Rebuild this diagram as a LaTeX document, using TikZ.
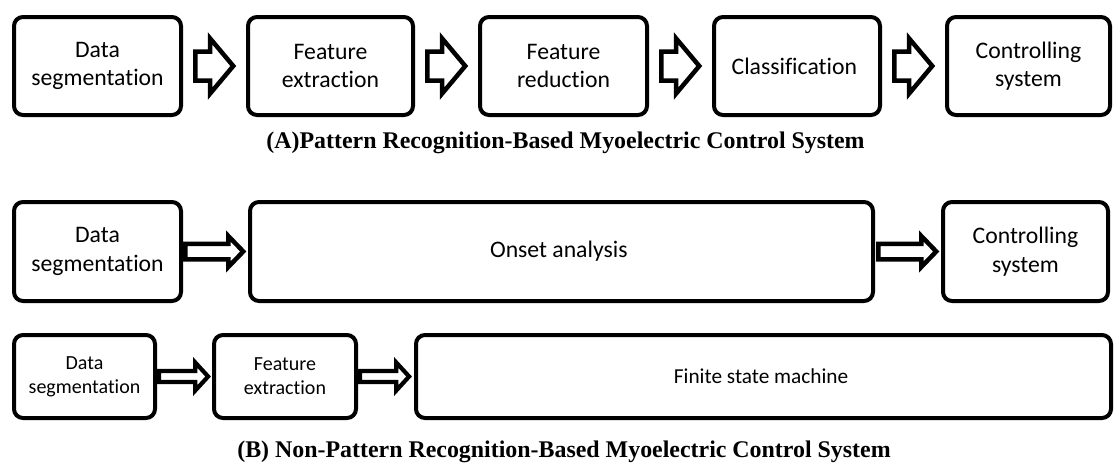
\documentclass[tikz,border=0pt]{standalone}
\usepackage{fontspec}
\setmainfont{Carlito}[Ligatures=NoCommon]
\newfontfamily\capfont{Liberation Serif}
\usetikzlibrary{positioning,shapes.arrows}

\begin{document}
\begin{tikzpicture}[x=1pt, y=-1pt,
	box/.style = { rectangle, rounded corners=9pt, draw=black, line width=4pt,
	fill=white, align=center, inner sep=0pt, minimum height=98pt,
	font=\fontsize{23.7}{28.5}\selectfont },
	smallbox/.style = { box, minimum height=83pt,
	font=\fontsize{20}{24}\selectfont },
	fatarrow/.style = { single arrow, draw=black, line width=4.5pt, fill=white,
	text height=0pt, text depth=0pt, minimum width=0pt,
	inner xsep=0pt, inner ysep=12.25pt, minimum height=38pt,
	single arrow head extend=13pt, single arrow tip angle=100 },
	dblarrow/.style = { fatarrow, line width=4.5pt, inner ysep=5.5pt, minimum height=58pt,
	single arrow head extend=7.75pt, single arrow tip angle=92 },
	thinarrow/.style = { dblarrow, line width=4.2pt, inner ysep=3.4pt, minimum height=49pt,
	single arrow head extend=8.5pt, single arrow tip angle=95 },
	caption/.style = { font=\capfont\bfseries\fontsize{23.9}{28}\selectfont } ]

  \useasboundingbox (0,0) rectangle (1117,469);

  % (A) pattern recognition
  \node [name=segA, box, minimum width=167pt] at (97.5,66) { Data\\segmentation };
  \node [name=fextA, box, minimum width=165pt, right=63pt of segA] { Feature\\extraction };
  \node [name=fredA, box, minimum width=167pt, right=63pt of fextA] { Feature\\reduction };
  \node [name=classA, box, minimum width=166pt, right=63pt of fredA] { Classification };
  \node [name=ctrlA, box, minimum width=163pt, right=63pt of classA] { Controlling\\system };
  \node [name=arA1, fatarrow, right=10pt of segA] {};
  \node [name=arA2, fatarrow, right=10pt of fextA] {};
  \node [name=arA3, fatarrow, right=10pt of fredA] {};
  \node [name=arA4, fatarrow, right=10pt of classA] {};
  \node [name=capA, caption] at (565.5,143)
	{(A)Pattern Recognition-Based Myoelectric Control System};

  % (B) non-pattern recognition
  \node [name=segB, box, minimum width=167pt, minimum height=99pt] at (97.5,251.5)
	{ Data\\segmentation };
  \node [name=onsetB, box, minimum width=623pt, minimum height=99pt,
	right=65pt of segB] { Onset analysis };
  \node [name=ctrlB, box, minimum width=165pt, minimum height=99pt,
	right=66pt of onsetB] { Controlling\\system };
  \node [name=arB1, dblarrow, right=0pt of segB] {};
  \node [name=arB2, dblarrow, right=1pt of onsetB] {};

  \node [name=segC, smallbox, minimum width=141pt] at (84.5,376.5) { Data\\segmentation };
  \node [name=fextC, smallbox, minimum width=142pt, right=55pt of segC]
	{ Feature\\extraction };
  \node [name=fsmC, smallbox, minimum width=695pt, right=56pt of fextC,
	font=\fontsize{21.3}{25}\selectfont] { Finite state machine };
  \node [name=arC1, thinarrow, right=0pt of segC] {};
  \node [name=arC2, thinarrow, right=0pt of fextC] {};
  \node [name=capB, caption] at (564,452)
	{(B) Non-Pattern Recognition-Based Myoelectric Control System};
\end{tikzpicture}
\end{document}
